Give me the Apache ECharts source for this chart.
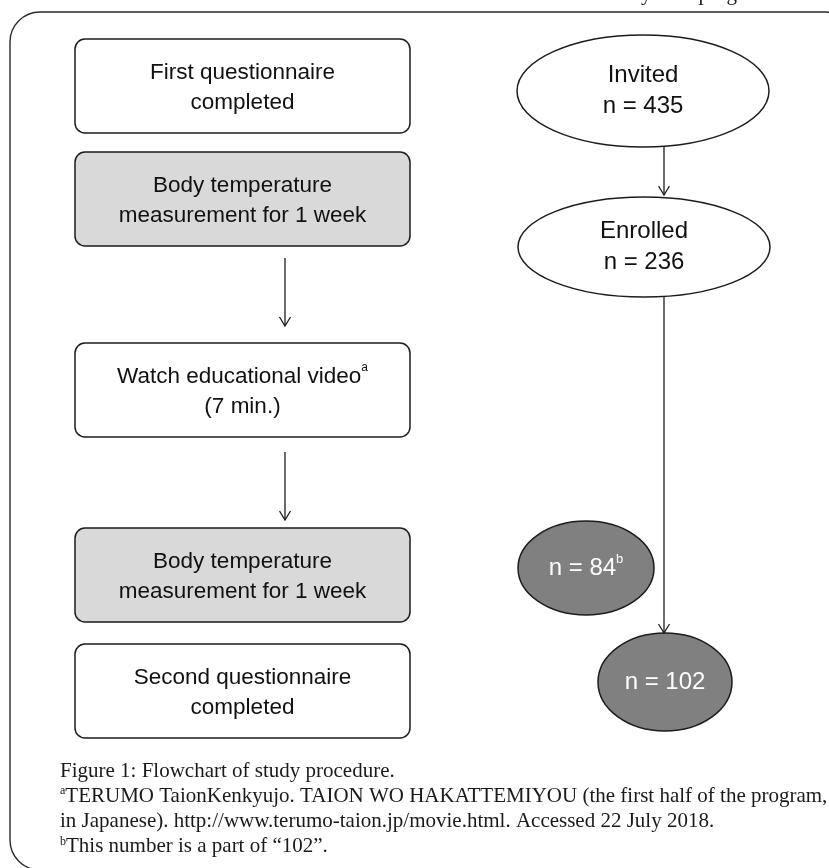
<!DOCTYPE html>
<html>
<head>
<meta charset="utf-8">
<script src="https://cdn.jsdelivr.net/npm/echarts@6/dist/echarts.min.js"></script>
<style>
  html, body { margin: 0; padding: 0; background: #fff; }
  #main { width: 829px; height: 868px; }
</style>
</head>
<body>
<div id="main"></div>
<script>
// flow steps (left column)
const stepLabels = [
  'First questionnaire\ncompleted',
  'Body temperature\nmeasurement for 1 week',
  'Watch educational video{sup|a}\n(7 min.)',
  'Body temperature\nmeasurement for 1 week',
  'Second questionnaire\ncompleted'
]
const stepShaded = [false, true, false, true, false]

// participant counts (right column)
const groupNames = ['Invited', 'Enrolled', '', '']
const groupCounts = [435, 236, 84, 102]
const groupNotes = ['', '', 'b', '']
const groupDark = [false, false, true, true]

// arrows: [from, to] by node id
const arrowLinks = [
  ['step1', 'step2'],
  ['step2', 'step3'],
  ['group0', 'group1'],
  ['group1', 'group3']
]

const captionLines = [
  'Figure 1: Flowchart of study procedure.',
  '{sup|a}TERUMO TaionKenkyujo. TAION WO HAKATTEMIYOU (the first half of the program,',
  'in Japanese). http://www.terumo-taion.jp/movie.html. Accessed 22 July 2018.',
  '{sup|b}This number is a part of \u201c102\u201d.'
]

// ---- layout (drawing units = page pixels) ----
const boxLeft = 75
const boxWidth = 335
const boxHeight = 94
const stepTops = [39, 152, 343, 528, 644]
const groupShapes = [
  [643, 91, 126, 56],
  [644, 247, 126, 50],
  [586, 568, 68, 47],
  [665, 682, 67, 49]
]
const arrowPaths = [
  [[285, 258], [285, 326]],
  [[285, 452], [285, 520]],
  [[664, 147], [664, 195]],
  [[664, 297], [664, 633]]
]

const stroke = '#1c1c1c'
const sansFont = '"Liberation Sans", Arial, sans-serif'
const serifFont = '"Liberation Serif", "DejaVu Serif", serif'

const chartDom = document.getElementById('main')
const myChart = echarts.init(chartDom, null, { renderer: 'canvas' })

function renderStep(params, api) {
  const i = params.dataIndex
  const p0 = api.coord([api.value(0), api.value(1)])
  const p1 = api.coord([api.value(0) + boxWidth, api.value(1) + boxHeight])
  return {
    type: 'group',
    children: [
      {
        type: 'rect',
        shape: { x: p0[0], y: p0[1], width: p1[0] - p0[0], height: p1[1] - p0[1], r: 10 },
        style: { fill: stepShaded[i] ? '#d9d9d9' : '#ffffff', stroke: stroke, lineWidth: 1.5 }
      },
      {
        type: 'text',
        x: (p0[0] + p1[0]) / 2,
        y: (p0[1] + p1[1]) / 2 + 2,
        style: {
          text: stepLabels[i],
          font: '22.5px ' + sansFont,
          fill: '#111',
          align: 'center',
          verticalAlign: 'middle',
          lineHeight: 30,
          rich: {
            sup: { fontSize: 12, fontFamily: sansFont, verticalAlign: 'top', lineHeight: 30, padding: [0, 0, 12, 0] }
          }
        }
      }
    ]
  }
}

function renderGroup(params, api) {
  const i = params.dataIndex
  const c = api.coord([api.value(0), api.value(1)])
  const s = api.size([api.value(2), api.value(3)])
  const dark = groupDark[i]
  let label = 'n = ' + groupCounts[i]
  if (groupNotes[i]) label += '{sup|' + groupNotes[i] + '}'
  if (groupNames[i]) label = groupNames[i] + '\n' + label
  return {
    type: 'group',
    children: [
      {
        type: 'ellipse',
        shape: { cx: c[0], cy: c[1], rx: s[0], ry: s[1] },
        style: { fill: dark ? '#808080' : '#ffffff', stroke: stroke, lineWidth: 1.5 }
      },
      {
        type: 'text',
        x: c[0],
        y: c[1],
        style: {
          text: label,
          font: '24px ' + sansFont,
          fill: dark ? '#ffffff' : '#111',
          align: 'center',
          verticalAlign: 'middle',
          lineHeight: 31,
          rich: {
            sup: { fontSize: 13, fontFamily: sansFont, fill: dark ? '#ffffff' : '#111', verticalAlign: 'top', lineHeight: 31, padding: [0, 0, 12, 0] }
          }
        }
      }
    ]
  }
}

function renderArrow(params, api) {
  const a = api.coord([api.value(0), api.value(1)])
  const b = api.coord([api.value(2), api.value(3)])
  return {
    type: 'group',
    children: [
      {
        type: 'line',
        shape: { x1: a[0], y1: a[1], x2: b[0], y2: b[1] },
        style: { stroke: stroke, lineWidth: 1.3 }
      },
      {
        type: 'polyline',
        shape: { points: [[b[0] - 5.5, b[1] - 9], [b[0], b[1]], [b[0] + 5.5, b[1] - 9]] },
        style: { stroke: stroke, lineWidth: 1.3, fill: 'none' }
      }
    ]
  }
}

const captionTexts = captionLines.map(function (line, i) {
  return {
    type: 'text',
    x: 60,
    y: 771 + i * 25.3,
    style: {
      text: line,
      font: '21px ' + serifFont,
      fill: '#1a1a1a',
      verticalAlign: 'middle',
      rich: {
        sup: { fontSize: 12, fontFamily: serifFont, fill: '#1a1a1a', verticalAlign: 'top', padding: [0, 0, 10, 0] }
      }
    }
  }
})

let option = {
  animation: false,
  backgroundColor: '#ffffff',
  grid: { left: 0, right: 0, top: 0, bottom: 0 },
  xAxis: { type: 'value', min: 0, max: 829, show: false },
  yAxis: { type: 'value', min: 0, max: 868, inverse: true, show: false },
  graphic: [
    {
      type: 'rect',
      shape: { x: 10, y: 12, width: 845, height: 858, r: 30 },
      style: { fill: 'none', stroke: '#2a2a2a', lineWidth: 1.4 },
      z: -1
    },
    {
      type: 'text',
      x: 575,
      y: -16,
      style: {
        text: 'the study. The program consisted of',
        font: '21px ' + serifFont,
        fill: '#1a1a1a'
      }
    }
  ].concat(captionTexts),
  series: [
    {
      type: 'custom',
      name: 'steps',
      renderItem: renderStep,
      data: stepLabels.map(function (label, i) { return [boxLeft, stepTops[i]] })
    },
    {
      type: 'custom',
      name: 'groups',
      renderItem: renderGroup,
      data: groupCounts.map(function (n, i) { return groupShapes[i] })
    },
    {
      type: 'custom',
      name: 'arrows',
      renderItem: renderArrow,
      data: arrowLinks.map(function (link, i) {
        const p = arrowPaths[i]
        return [p[0][0], p[0][1], p[1][0], p[1][1]]
      })
    }
  ]
}
myChart.setOption(option)
</script>
</body>
</html>
